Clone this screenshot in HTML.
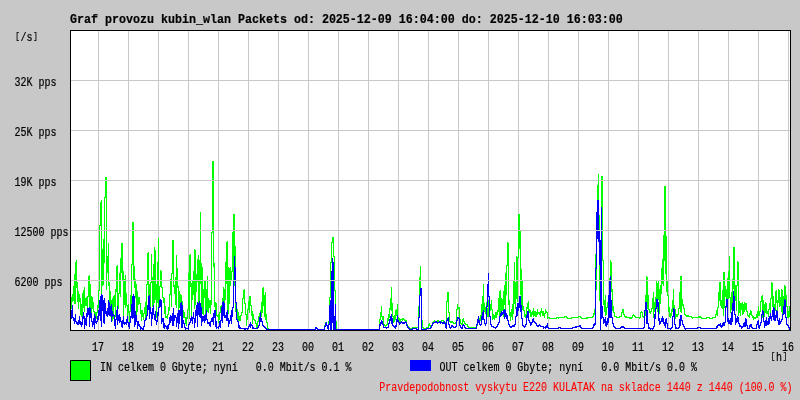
<!DOCTYPE html>
<html lang="cs"><head><meta charset="utf-8"><title>Graf provozu kubin_wlan</title>
<style>
html,body{margin:0;padding:0;background:#c8c8c8;overflow:hidden}
svg{display:block;will-change:transform}
text{white-space:pre;font-family:"Liberation Mono","DejaVu Sans Mono",monospace;font-size:12.5px;fill:#000;stroke:#000;stroke-width:.2px}
text.t{font-weight:bold;font-size:13px;stroke-width:.2px}
</style></head><body>
<svg width="800" height="400" viewBox="0 0 800 400">
<rect x="0" y="0" width="800" height="400" fill="#c8c8c8"/>
<rect x="70" y="30" width="721" height="301" fill="#fff"/>
<g shape-rendering="crispEdges" fill="none" stroke-width="1">
<path stroke="#c8c8c8" d="M98.5 31V330M128.5 31V330M158.5 31V330M188.5 31V330M218.5 31V330M248.5 31V330M278.5 31V330M308.5 31V330M338.5 31V330M368.5 31V330M398.5 31V330M428.5 31V330M458.5 31V330M488.5 31V330M518.5 31V330M548.5 31V330M578.5 31V330M608.5 31V330M638.5 31V330M668.5 31V330M698.5 31V330M728.5 31V330M758.5 31V330M788.5 31V330"/>
<path stroke="#0f0" d="M71.5 297V309M72.5 294V302M73.5 286V301M74.5 274V304M75.5 262V304M76.5 260V288M77.5 282V302M78.5 291V309M79.5 294V302M80.5 298V315M81.5 304V317M82.5 293V317M83.5 290V308M84.5 287V312M85.5 298V306M86.5 297V306M87.5 296V317M88.5 276V297M89.5 275V310M90.5 284V318M91.5 296V319M92.5 297V309M93.5 302V312M94.5 311V319M95.5 312V316M96.5 312V319M97.5 305V313M98.5 290V308M99.5 225V291M100.5 202V226M101.5 200V308M102.5 249V286M103.5 239V285M104.5 197V263M105.5 177V198M106.5 177V290M107.5 256V273M108.5 243V286M109.5 282V314M110.5 291V317M111.5 300V320M112.5 298V321M113.5 296V319M114.5 295V307M115.5 289V317M116.5 266V292M117.5 265V315M118.5 293V309M119.5 273V294M120.5 258V297M121.5 243V273M122.5 243V281M123.5 271V316M124.5 279V305M125.5 275V308M126.5 293V306M127.5 305V320M128.5 304V313M129.5 311V323M130.5 295V312M131.5 264V308M132.5 222V265M133.5 222V281M134.5 266V288M135.5 279V298M136.5 284V321M137.5 291V312M138.5 297V305M139.5 297V304M140.5 303V314M141.5 310V321M142.5 310V317M143.5 313V320M144.5 307V314M145.5 302V318M146.5 284V316M147.5 253V285M148.5 252V296M149.5 284V315M150.5 282V312M151.5 254V283M152.5 277V307M153.5 264V306M154.5 247V303M155.5 250V300M156.5 284V318M157.5 262V303M158.5 238V316M159.5 286V303M160.5 270V287M161.5 271V288M162.5 287V298M163.5 297V303M164.5 298V314M165.5 306V318M166.5 316V318M167.5 314V319M168.5 307V315M169.5 294V311M170.5 279V295M171.5 273V307M172.5 240V274M173.5 240V287M174.5 285V294M175.5 277V305M176.5 255V308M177.5 268V288M178.5 286V322M179.5 291V308M180.5 294V308M181.5 295V316M182.5 301V325M183.5 310V318M184.5 312V318M185.5 317V324M186.5 317V326M187.5 309V319M188.5 273V310M189.5 255V319M190.5 254V287M191.5 283V318M192.5 281V300M193.5 271V295M194.5 249V309M195.5 250V305M196.5 274V292M197.5 259V282M198.5 255V304M199.5 260V313M200.5 212V284M201.5 263V308M202.5 267V314M203.5 289V315M204.5 280V298M205.5 281V319M206.5 289V314M207.5 276V312M208.5 298V313M209.5 300V308M210.5 300V314M211.5 232V305M212.5 161V233M213.5 161V267M214.5 263V307M215.5 302V317M216.5 303V316M217.5 315V317M218.5 314V323M219.5 312V320M220.5 306V313M221.5 305V320M222.5 298V310M223.5 287V310M224.5 289V315M225.5 262V300M226.5 242V284M227.5 241V310M228.5 267V314M229.5 268V304M230.5 267V286M231.5 271V280M232.5 232V272M233.5 214V283M234.5 214V286M235.5 246V312M236.5 305V313M237.5 309V321M238.5 312V325M239.5 316V321M240.5 315V321M241.5 312V316M242.5 298V313M243.5 290V299M244.5 289V304M245.5 303V315M246.5 314V326M247.5 309V320M248.5 301V310M249.5 296V313M250.5 296V306M251.5 305V316M252.5 311V324M253.5 314V320M254.5 319V321M255.5 320V324M256.5 323V329M257.5 321V327M258.5 316V322M259.5 313V317M260.5 310V322M261.5 302V317M262.5 288V313M263.5 287V306M264.5 295V317M265.5 292V320M266.5 314V323M267.5 322V329M268.5 328V330M269.5 329V330M270.5 329V330M271.5 329V330M272.5 329V330M273.5 329V330M274.5 329V330M275.5 329V330M276.5 329V330M277.5 329V330M278.5 329V330M279.5 329V330M280.5 329V330M281.5 329V330M282.5 329V330M283.5 329V330M284.5 329V330M285.5 329V330M286.5 329V330M287.5 329V330M288.5 329V330M289.5 329V330M290.5 329V330M291.5 329V330M292.5 329V330M293.5 329V330M294.5 329V330M295.5 329V330M296.5 329V330M297.5 329V330M298.5 329V330M299.5 329V330M300.5 329V330M301.5 329V330M302.5 329V330M303.5 329V330M304.5 329V330M305.5 329V330M306.5 329V330M307.5 329V330M308.5 329V330M309.5 329V330M310.5 329V330M311.5 329V330M312.5 329V330M313.5 329V330M314.5 329V330M315.5 327V330M316.5 327V329M317.5 328V330M318.5 329V330M319.5 329V330M320.5 329V330M321.5 329V330M322.5 329V330M323.5 329V330M324.5 325V330M325.5 322V326M326.5 322V326M327.5 325V329M328.5 321V330M329.5 297V322M330.5 262V298M331.5 242V263M332.5 237V243M333.5 237V257M334.5 256V291M335.5 290V322M336.5 321V330M337.5 329V330M338.5 329V330M339.5 329V330M340.5 329V330M341.5 329V330M342.5 329V330M343.5 329V330M344.5 329V330M345.5 329V330M346.5 329V330M347.5 329V330M348.5 329V330M349.5 329V330M350.5 329V330M351.5 329V330M352.5 329V330M353.5 329V330M354.5 329V330M355.5 329V330M356.5 329V330M357.5 329V330M358.5 329V330M359.5 329V330M360.5 329V330M361.5 329V330M362.5 329V330M363.5 329V330M364.5 329V330M365.5 329V330M366.5 329V330M367.5 329V330M368.5 329V330M369.5 329V330M370.5 329V330M371.5 329V330M372.5 329V330M373.5 329V330M374.5 329V330M375.5 329V330M376.5 329V330M377.5 329V330M378.5 329V330M379.5 319V330M380.5 312V320M381.5 306V317M382.5 316V320M383.5 316V326M384.5 324V326M385.5 325V327M386.5 324V326M387.5 318V325M388.5 314V321M389.5 308V318M390.5 298V310M391.5 287V311M392.5 303V317M393.5 316V323M394.5 315V322M395.5 310V320M396.5 309V316M397.5 304V319M398.5 317V322M399.5 318V323M400.5 319V322M401.5 319V320M402.5 318V321M403.5 318V320M404.5 319V321M405.5 320V321M406.5 320V325M407.5 324V327M408.5 326V328M409.5 327V329M410.5 328V329M411.5 328V329M412.5 327V329M413.5 327V328M414.5 327V328M415.5 327V328M416.5 327V328M417.5 327V328M418.5 306V328M419.5 277V307M420.5 266V291M421.5 290V321M422.5 320V328M423.5 327V329M424.5 328V329M425.5 328V329M426.5 327V329M427.5 327V328M428.5 324V328M429.5 323V326M430.5 325V328M431.5 325V328M432.5 322V326M433.5 321V323M434.5 320V322M435.5 321V323M436.5 321V323M437.5 320V322M438.5 320V322M439.5 321V323M440.5 321V322M441.5 320V322M442.5 320V321M443.5 320V322M444.5 321V323M445.5 322V326M446.5 301V327M447.5 292V302M448.5 292V313M449.5 312V322M450.5 321V323M451.5 321V323M452.5 321V323M453.5 322V324M454.5 323V324M455.5 322V324M456.5 309V323M457.5 304V310M458.5 307V309M459.5 307V320M460.5 319V324M461.5 323V325M462.5 319V325M463.5 318V322M464.5 321V324M465.5 323V325M466.5 324V325M467.5 324V327M468.5 326V328M469.5 327V328M470.5 327V328M471.5 327V328M472.5 327V328M473.5 327V328M474.5 327V328M475.5 327V328M476.5 325V328M477.5 321V326M478.5 318V322M479.5 318V320M480.5 315V321M481.5 304V316M482.5 296V315M483.5 284V319M484.5 303V312M485.5 307V314M486.5 302V318M487.5 308V317M488.5 300V317M489.5 310V317M490.5 304V311M491.5 300V310M492.5 309V320M493.5 314V319M494.5 315V320M495.5 312V318M496.5 312V318M497.5 310V315M498.5 298V312M499.5 291V318M500.5 290V316M501.5 298V316M502.5 299V311M503.5 291V317M504.5 285V305M505.5 273V316M506.5 265V295M507.5 242V266M508.5 243V305M509.5 300V316M510.5 312V321M511.5 309V317M512.5 304V320M513.5 280V314M514.5 262V304M515.5 282V309M516.5 256V299M517.5 257V302M518.5 214V258M519.5 214V249M520.5 231V295M521.5 269V309M522.5 280V310M523.5 306V311M524.5 310V317M525.5 314V318M526.5 307V317M527.5 303V309M528.5 301V317M529.5 309V313M530.5 310V317M531.5 312V317M532.5 311V315M533.5 308V317M534.5 311V316M535.5 311V317M536.5 312V317M537.5 309V315M538.5 312V314M539.5 312V315M540.5 311V317M541.5 308V313M542.5 311V316M543.5 311V316M544.5 313V318M545.5 309V314M546.5 311V313M547.5 312V319M548.5 317V318M549.5 317V319M550.5 318V319M551.5 318V319M552.5 318V319M553.5 318V319M554.5 318V319M555.5 318V319M556.5 317V319M557.5 317V318M558.5 317V319M559.5 317V318M560.5 317V318M561.5 317V318M562.5 317V318M563.5 317V318M564.5 316V318M565.5 316V317M566.5 316V318M567.5 317V319M568.5 318V319M569.5 318V319M570.5 318V319M571.5 317V319M572.5 317V318M573.5 317V318M574.5 317V318M575.5 317V318M576.5 317V318M577.5 317V318M578.5 316V318M579.5 316V317M580.5 316V318M581.5 317V319M582.5 318V319M583.5 318V319M584.5 318V319M585.5 318V319M586.5 317V319M587.5 317V319M588.5 317V318M589.5 317V318M590.5 317V318M591.5 317V318M592.5 316V318M593.5 313V317M594.5 309V315M595.5 254V310M596.5 228V290M597.5 185V238M598.5 174V216M599.5 215V301M600.5 240V306M601.5 176V241M602.5 176V261M603.5 260V305M604.5 300V312M605.5 295V316M606.5 307V315M607.5 302V308M608.5 300V309M609.5 278V301M610.5 260V286M611.5 262V292M612.5 289V311M613.5 306V313M614.5 312V317M615.5 316V317M616.5 316V318M617.5 317V318M618.5 317V318M619.5 316V318M620.5 316V317M621.5 312V317M622.5 309V313M623.5 309V315M624.5 314V317M625.5 316V318M626.5 316V318M627.5 317V318M628.5 317V318M629.5 317V319M630.5 317V319M631.5 317V319M632.5 315V318M633.5 314V316M634.5 315V317M635.5 316V318M636.5 317V318M637.5 317V318M638.5 317V318M639.5 317V319M640.5 312V318M641.5 311V313M642.5 312V317M643.5 316V318M644.5 310V317M645.5 295V316M646.5 276V304M647.5 277V309M648.5 295V310M649.5 309V313M650.5 311V314M651.5 308V312M652.5 298V309M653.5 292V318M654.5 302V312M655.5 297V314M656.5 281V309M657.5 283V312M658.5 280V300M659.5 289V314M660.5 285V304M661.5 268V294M662.5 259V284M663.5 235V286M664.5 186V261M665.5 186V274M666.5 236V292M667.5 281V296M668.5 295V312M669.5 307V317M670.5 313V318M671.5 309V316M672.5 300V312M673.5 289V308M674.5 305V315M675.5 309V319M676.5 314V317M677.5 314V317M678.5 308V315M679.5 292V309M680.5 276V312M681.5 276V313M682.5 299V306M683.5 304V309M684.5 308V315M685.5 314V316M686.5 315V317M687.5 315V317M688.5 315V317M689.5 316V317M690.5 316V317M691.5 316V318M692.5 317V319M693.5 317V318M694.5 317V318M695.5 317V318M696.5 317V318M697.5 317V318M698.5 316V318M699.5 316V318M700.5 316V318M701.5 317V319M702.5 318V319M703.5 318V319M704.5 318V319M705.5 318V319M706.5 317V319M707.5 317V318M708.5 317V318M709.5 317V319M710.5 318V319M711.5 318V319M712.5 317V319M713.5 317V318M714.5 317V318M715.5 314V318M716.5 310V315M717.5 307V316M718.5 292V308M719.5 282V301M720.5 282V306M721.5 300V308M722.5 290V309M723.5 272V316M724.5 272V308M725.5 286V297M726.5 289V308M727.5 278V300M728.5 271V299M729.5 256V298M730.5 297V313M731.5 292V310M732.5 279V312M733.5 247V289M734.5 247V313M735.5 285V301M736.5 285V311M737.5 261V286M738.5 262V316M739.5 301V313M740.5 303V316M741.5 303V310M742.5 302V315M743.5 304V314M744.5 302V312M745.5 303V310M746.5 303V312M747.5 311V316M748.5 315V317M749.5 313V318M750.5 310V315M751.5 311V316M752.5 315V318M753.5 316V320M754.5 317V319M755.5 317V319M756.5 314V318M757.5 311V318M758.5 306V316M759.5 311V316M760.5 301V312M761.5 296V302M762.5 295V318M763.5 300V317M764.5 304V317M765.5 302V313M766.5 303V314M767.5 311V314M768.5 309V317M769.5 303V310M770.5 298V315M771.5 282V299M772.5 283V307M773.5 296V318M774.5 304V319M775.5 291V311M776.5 290V303M777.5 300V312M778.5 289V303M779.5 290V307M780.5 297V306M781.5 289V312M782.5 290V314M783.5 296V309M784.5 285V309M785.5 286V301M786.5 295V307M787.5 306V318M788.5 311V318M789.5 306V317"/>
<path stroke="#00f" d="M71.5 310V319M72.5 305V318M73.5 317V321M74.5 318V324M75.5 314V322M76.5 321V324M77.5 322V325M78.5 320V325M79.5 316V324M80.5 321V325M81.5 322V327M82.5 316V325M83.5 312V319M84.5 316V329M85.5 318V325M86.5 313V326M87.5 308V317M88.5 308V315M89.5 307V327M90.5 308V318M91.5 313V322M92.5 321V327M93.5 318V325M94.5 314V329M95.5 316V323M96.5 321V324M97.5 316V322M98.5 310V320M99.5 300V316M100.5 296V321M101.5 294V327M102.5 295V311M103.5 300V323M104.5 298V324M105.5 303V314M106.5 311V316M107.5 308V317M108.5 300V315M109.5 302V316M110.5 306V316M111.5 304V322M112.5 311V317M113.5 314V316M114.5 315V326M115.5 319V329M116.5 310V320M117.5 306V325M118.5 315V321M119.5 314V323M120.5 317V322M121.5 321V327M122.5 320V328M123.5 316V324M124.5 322V325M125.5 322V324M126.5 319V325M127.5 316V323M128.5 322V327M129.5 322V329M130.5 316V323M131.5 304V318M132.5 296V319M133.5 294V318M134.5 296V327M135.5 311V325M136.5 315V322M137.5 321V329M138.5 321V326M139.5 324V327M140.5 326V330M141.5 327V329M142.5 328V330M143.5 326V330M144.5 320V327M145.5 318V321M146.5 315V320M147.5 305V316M148.5 296V310M149.5 295V319M150.5 307V314M151.5 312V326M152.5 308V319M153.5 305V315M154.5 314V320M155.5 311V321M156.5 320V325M157.5 312V322M158.5 307V316M159.5 300V308M160.5 299V307M161.5 300V324M162.5 318V322M163.5 318V328M164.5 323V329M165.5 325V327M166.5 326V329M167.5 325V330M168.5 324V329M169.5 317V325M170.5 315V323M171.5 316V321M172.5 313V326M173.5 308V326M174.5 315V321M175.5 315V318M176.5 317V327M177.5 313V323M178.5 310V329M179.5 310V324M180.5 303V316M181.5 302V328M182.5 305V328M183.5 320V324M184.5 323V328M185.5 327V330M186.5 328V329M187.5 328V329M188.5 324V330M189.5 322V325M190.5 318V323M191.5 316V321M192.5 317V324M193.5 312V319M194.5 318V328M195.5 310V323M196.5 305V316M197.5 302V327M198.5 303V315M199.5 301V317M200.5 303V318M201.5 307V326M202.5 316V322M203.5 316V321M204.5 315V323M205.5 314V321M206.5 310V320M207.5 319V324M208.5 322V324M209.5 322V326M210.5 321V327M211.5 318V322M212.5 317V322M213.5 313V325M214.5 310V318M215.5 310V327M216.5 321V329M217.5 327V328M218.5 326V329M219.5 321V327M220.5 320V328M221.5 307V321M222.5 302V323M223.5 301V316M224.5 303V318M225.5 315V318M226.5 312V321M227.5 310V321M228.5 318V327M229.5 320V324M230.5 315V321M231.5 310V324M232.5 307V317M233.5 280V308M234.5 256V281M235.5 267V303M236.5 302V320M237.5 319V322M238.5 321V328M239.5 325V329M240.5 327V329M241.5 328V329M242.5 328V329M243.5 328V329M244.5 328V330M245.5 328V330M246.5 328V329M247.5 328V330M248.5 326V329M249.5 324V327M250.5 322V328M251.5 324V326M252.5 325V329M253.5 327V329M254.5 328V329M255.5 328V329M256.5 328V329M257.5 327V329M258.5 325V328M259.5 317V326M260.5 312V322M261.5 318V322M262.5 321V326M263.5 325V327M264.5 326V328M265.5 327V329M266.5 328V330M267.5 329V330M268.5 329V330M269.5 329V330M270.5 329V330M271.5 329V330M272.5 329V330M273.5 329V330M274.5 329V330M275.5 329V330M276.5 329V330M277.5 329V330M278.5 329V330M279.5 329V330M280.5 329V330M281.5 329V330M282.5 329V330M283.5 329V330M284.5 329V330M285.5 329V330M286.5 329V330M287.5 329V330M288.5 329V330M289.5 329V330M290.5 329V330M291.5 329V330M292.5 329V330M293.5 329V330M294.5 329V330M295.5 329V330M296.5 329V330M297.5 329V330M298.5 329V330M299.5 329V330M300.5 329V330M301.5 329V330M302.5 329V330M303.5 329V330M304.5 329V330M305.5 329V330M306.5 329V330M307.5 329V330M308.5 329V330M309.5 329V330M310.5 329V330M311.5 329V330M312.5 329V330M313.5 329V330M314.5 329V330M315.5 327V330M316.5 327V329M317.5 328V330M318.5 329V330M319.5 329V330M320.5 329V330M321.5 329V330M322.5 329V330M323.5 329V330M324.5 326V330M325.5 323V327M326.5 322V326M327.5 325V329M328.5 324V330M329.5 305V325M330.5 300V330M331.5 271V330M332.5 258V323M333.5 262V330M334.5 316V330M335.5 304V330M336.5 329V330M337.5 329V330M338.5 329V330M339.5 329V330M340.5 329V330M341.5 329V330M342.5 329V330M343.5 329V330M344.5 329V330M345.5 329V330M346.5 329V330M347.5 329V330M348.5 329V330M349.5 329V330M350.5 329V330M351.5 329V330M352.5 329V330M353.5 329V330M354.5 329V330M355.5 329V330M356.5 329V330M357.5 329V330M358.5 329V330M359.5 329V330M360.5 329V330M361.5 329V330M362.5 329V330M363.5 329V330M364.5 329V330M365.5 329V330M366.5 329V330M367.5 329V330M368.5 329V330M369.5 329V330M370.5 329V330M371.5 329V330M372.5 329V330M373.5 329V330M374.5 329V330M375.5 329V330M376.5 329V330M377.5 329V330M378.5 329V330M379.5 324V330M380.5 322V326M381.5 320V324M382.5 321V325M383.5 324V328M384.5 327V328M385.5 327V328M386.5 327V329M387.5 327V328M388.5 323V328M389.5 319V324M390.5 316V321M391.5 314V324M392.5 318V326M393.5 325V327M394.5 326V328M395.5 325V329M396.5 319V327M397.5 315V322M398.5 320V323M399.5 322V325M400.5 322V324M401.5 321V323M402.5 322V324M403.5 322V324M404.5 322V324M405.5 321V323M406.5 322V326M407.5 325V328M408.5 327V329M409.5 328V330M410.5 329V330M411.5 329V330M412.5 328V330M413.5 328V329M414.5 328V329M415.5 328V329M416.5 328V330M417.5 329V330M418.5 317V330M419.5 295V318M420.5 288V296M421.5 288V330M422.5 329V330M423.5 329V330M424.5 329V330M425.5 329V330M426.5 328V330M427.5 328V329M428.5 328V329M429.5 328V329M430.5 327V329M431.5 325V328M432.5 323V326M433.5 322V324M434.5 322V323M435.5 321V323M436.5 321V323M437.5 322V324M438.5 322V323M439.5 321V323M440.5 321V324M441.5 322V323M442.5 322V324M443.5 322V324M444.5 321V324M445.5 323V328M446.5 320V329M447.5 318V321M448.5 317V325M449.5 324V328M450.5 327V329M451.5 325V328M452.5 325V327M453.5 326V328M454.5 327V328M455.5 326V328M456.5 320V327M457.5 317V321M458.5 317V319M459.5 318V326M460.5 325V328M461.5 327V329M462.5 325V329M463.5 324V326M464.5 325V328M465.5 327V329M466.5 328V329M467.5 328V329M468.5 328V329M469.5 328V329M470.5 328V329M471.5 328V329M472.5 328V329M473.5 328V329M474.5 328V329M475.5 328V329M476.5 324V329M477.5 319V325M478.5 316V323M479.5 320V325M480.5 324V326M481.5 316V325M482.5 312V320M483.5 310V320M484.5 319V324M485.5 323V326M486.5 306V324M487.5 284V307M488.5 273V297M489.5 296V317M490.5 316V325M491.5 324V327M492.5 326V327M493.5 326V328M494.5 327V328M495.5 327V329M496.5 326V328M497.5 324V327M498.5 322V325M499.5 316V323M500.5 313V317M501.5 311V316M502.5 312V315M503.5 310V314M504.5 309V319M505.5 310V317M506.5 313V319M507.5 315V321M508.5 320V325M509.5 324V327M510.5 326V328M511.5 326V328M512.5 325V327M513.5 325V327M514.5 324V327M515.5 316V325M516.5 307V317M517.5 303V316M518.5 303V311M519.5 296V308M520.5 296V312M521.5 305V319M522.5 318V326M523.5 325V327M524.5 326V328M525.5 324V327M526.5 315V325M527.5 311V318M528.5 311V321M529.5 320V323M530.5 322V326M531.5 322V325M532.5 319V323M533.5 318V322M534.5 321V323M535.5 322V324M536.5 323V326M537.5 325V327M538.5 325V327M539.5 324V326M540.5 325V327M541.5 326V327M542.5 326V327M543.5 326V329M544.5 327V328M545.5 326V329M546.5 325V328M547.5 323V328M548.5 327V329M549.5 328V329M550.5 328V329M551.5 328V329M552.5 328V329M553.5 328V329M554.5 328V329M555.5 328V329M556.5 328V329M557.5 328V329M558.5 327V329M559.5 327V328M560.5 327V329M561.5 328V329M562.5 328V329M563.5 328V329M564.5 328V329M565.5 328V329M566.5 328V329M567.5 328V329M568.5 328V329M569.5 328V329M570.5 328V329M571.5 328V329M572.5 327V329M573.5 327V328M574.5 327V328M575.5 326V328M576.5 326V328M577.5 326V327M578.5 326V327M579.5 325V327M580.5 325V328M581.5 327V329M582.5 328V329M583.5 328V329M584.5 328V329M585.5 328V329M586.5 328V329M587.5 328V329M588.5 328V329M589.5 328V329M590.5 328V329M591.5 328V329M592.5 327V329M593.5 324V328M594.5 323V326M595.5 268V325M596.5 212V269M597.5 200V239M598.5 200V242M599.5 230V265M600.5 240V330M601.5 207V319M602.5 306V318M603.5 317V324M604.5 319V323M605.5 317V326M606.5 321V327M607.5 318V325M608.5 295V323M609.5 280V318M610.5 276V318M611.5 300V318M612.5 317V324M613.5 323V327M614.5 326V328M615.5 327V329M616.5 328V329M617.5 328V329M618.5 328V329M619.5 328V329M620.5 327V329M621.5 326V328M622.5 326V328M623.5 326V328M624.5 327V329M625.5 328V329M626.5 328V329M627.5 328V329M628.5 328V329M629.5 328V329M630.5 328V329M631.5 328V329M632.5 328V329M633.5 328V329M634.5 328V329M635.5 328V329M636.5 328V329M637.5 328V329M638.5 328V329M639.5 328V329M640.5 328V329M641.5 328V329M642.5 328V329M643.5 327V329M644.5 310V328M645.5 302V311M646.5 302V324M647.5 310V324M648.5 323V329M649.5 327V329M650.5 328V330M651.5 328V329M652.5 328V330M653.5 326V329M654.5 314V327M655.5 308V319M656.5 299V309M657.5 299V307M658.5 302V321M659.5 318V325M660.5 321V324M661.5 318V322M662.5 316V322M663.5 318V324M664.5 322V326M665.5 319V328M666.5 318V324M667.5 323V329M668.5 328V329M669.5 328V329M670.5 328V330M671.5 327V329M672.5 316V328M673.5 308V317M674.5 309V325M675.5 324V329M676.5 327V329M677.5 328V329M678.5 327V329M679.5 319V328M680.5 315V326M681.5 315V321M682.5 320V325M683.5 324V327M684.5 326V329M685.5 328V330M686.5 328V329M687.5 328V329M688.5 328V329M689.5 328V329M690.5 328V329M691.5 328V329M692.5 328V329M693.5 328V329M694.5 328V329M695.5 328V329M696.5 328V329M697.5 327V329M698.5 327V328M699.5 327V328M700.5 327V329M701.5 328V329M702.5 328V329M703.5 328V329M704.5 328V329M705.5 328V329M706.5 328V329M707.5 328V329M708.5 328V329M709.5 328V329M710.5 328V329M711.5 328V329M712.5 328V329M713.5 328V329M714.5 328V329M715.5 328V329M716.5 326V329M717.5 325V328M718.5 324V326M719.5 324V326M720.5 323V327M721.5 325V328M722.5 323V327M723.5 322V326M724.5 322V326M725.5 306V323M726.5 299V307M727.5 299V322M728.5 318V324M729.5 320V324M730.5 318V325M731.5 312V325M732.5 303V322M733.5 291V311M734.5 296V315M735.5 314V325M736.5 318V323M737.5 316V322M738.5 317V324M739.5 323V327M740.5 325V327M741.5 326V329M742.5 326V328M743.5 323V327M744.5 322V327M745.5 318V327M746.5 319V326M747.5 325V329M748.5 328V329M749.5 325V329M750.5 324V327M751.5 324V328M752.5 327V329M753.5 328V329M754.5 328V329M755.5 328V329M756.5 324V329M757.5 321V325M758.5 320V328M759.5 325V329M760.5 322V326M761.5 314V323M762.5 310V315M763.5 311V322M764.5 321V328M765.5 320V326M766.5 317V326M767.5 321V325M768.5 318V325M769.5 316V324M770.5 313V319M771.5 316V321M772.5 310V317M773.5 307V320M774.5 308V321M775.5 315V321M776.5 310V318M777.5 311V321M778.5 320V325M779.5 318V325M780.5 321V324M781.5 319V322M782.5 314V320M783.5 306V315M784.5 299V314M785.5 300V318M786.5 317V325M787.5 324V326M788.5 325V328M789.5 327V330"/>
<path stroke="#c8c8c8" d="M71 80.5H790M71 130.5H790M71 180.5H790M71 230.5H790M71 280.5H790"/>
<path stroke="#000" d="M70 30.5H791M70 330.5H791M70.5 30V331M790.5 30V331"/>
</g>
<rect x="70.5" y="360.5" width="20" height="20" fill="#0f0" stroke="#000" stroke-width="1" shape-rendering="crispEdges"/>
<rect x="410" y="360" width="21" height="11" fill="#00f" shape-rendering="crispEdges"/>
<text class="t" transform="translate(70,23) scale(0.8974,1)">Graf provozu kubin_wlan Packets od: 2025-12-09 16:04:00 do: 2025-12-10 16:03:00</text>
<text class="s" transform="translate(14.5,41) scale(0.8,1)"><tspan font-size="9.4" dx="0.9" dy="-1.7">[</tspan><tspan dx="0.9" dy="1.7">/s</tspan><tspan font-size="9.4" dx="0.9" dy="-1.7">]</tspan></text>
<text class="s" transform="translate(14.5,86) scale(0.8,1)">32K pps</text>
<text class="s" transform="translate(14.5,136) scale(0.8,1)">25K pps</text>
<text class="s" transform="translate(14.5,186) scale(0.8,1)">19K pps</text>
<text class="s" transform="translate(14.5,236) scale(0.8,1)">12500 pps</text>
<text class="s" transform="translate(14.5,286) scale(0.8,1)">6200 pps</text>
<text class="s" transform="translate(92,351) scale(0.8,1)">17</text>
<text class="s" transform="translate(122,351) scale(0.8,1)">18</text>
<text class="s" transform="translate(152,351) scale(0.8,1)">19</text>
<text class="s" transform="translate(182,351) scale(0.8,1)">20</text>
<text class="s" transform="translate(212,351) scale(0.8,1)">21</text>
<text class="s" transform="translate(242,351) scale(0.8,1)">22</text>
<text class="s" transform="translate(272,351) scale(0.8,1)">23</text>
<text class="s" transform="translate(302,351) scale(0.8,1)">00</text>
<text class="s" transform="translate(332,351) scale(0.8,1)">01</text>
<text class="s" transform="translate(362,351) scale(0.8,1)">02</text>
<text class="s" transform="translate(392,351) scale(0.8,1)">03</text>
<text class="s" transform="translate(422,351) scale(0.8,1)">04</text>
<text class="s" transform="translate(452,351) scale(0.8,1)">05</text>
<text class="s" transform="translate(482,351) scale(0.8,1)">06</text>
<text class="s" transform="translate(512,351) scale(0.8,1)">07</text>
<text class="s" transform="translate(542,351) scale(0.8,1)">08</text>
<text class="s" transform="translate(572,351) scale(0.8,1)">09</text>
<text class="s" transform="translate(602,351) scale(0.8,1)">10</text>
<text class="s" transform="translate(632,351) scale(0.8,1)">11</text>
<text class="s" transform="translate(662,351) scale(0.8,1)">12</text>
<text class="s" transform="translate(692,351) scale(0.8,1)">13</text>
<text class="s" transform="translate(722,351) scale(0.8,1)">14</text>
<text class="s" transform="translate(752,351) scale(0.8,1)">15</text>
<text class="s" transform="translate(782,351) scale(0.8,1)">16</text>
<text class="s" transform="translate(770,361) scale(0.8,1)"><tspan font-size="9.4" dx="0.9" dy="-1.7">[</tspan><tspan dx="0.9" dy="1.7">h</tspan><tspan font-size="9.4" dx="0.9" dy="-1.7">]</tspan></text>
<text class="s" transform="translate(100,371) scale(0.8,1)">IN celkem 0 Gbyte; nyní   0.0 Mbit/s 0.1 %</text>
<text class="s" transform="translate(439.5,371) scale(0.8,1)">OUT celkem 0 Gbyte; nyní   0.0 Mbit/s 0.0 %</text>
<text class="s" transform="translate(379.3,391) scale(0.8,1)" style="fill:#f00;stroke:#f00;stroke-width:.1px">Pravdepodobnost vyskytu E220 KULATAK na skladce 1440 z 1440 (100.0 %)</text>
</svg>
</body></html>
